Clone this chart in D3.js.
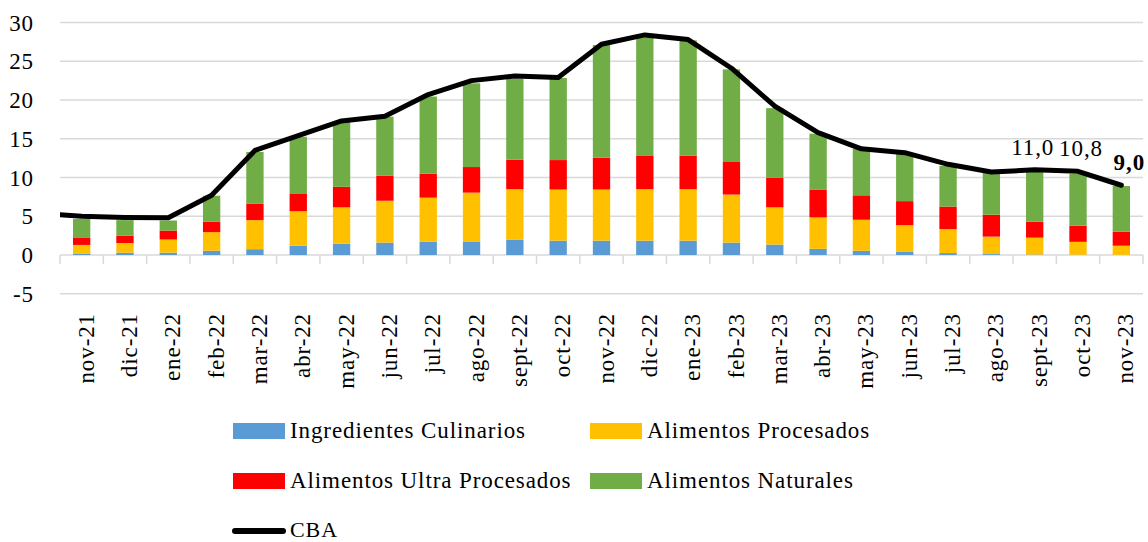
<!DOCTYPE html>
<html>
<head>
<meta charset="utf-8">
<script src="https://cdn.jsdelivr.net/npm/d3@7"></script>
<style>
  body { margin: 0; background: #fff; }
  svg text { font-family: "Liberation Serif", "DejaVu Serif", serif; fill: #000; letter-spacing: 0.9px; }
</style>
</head>
<body>
<svg width="1148" height="542"></svg>
<script>
// categorias (meses)
var meses = ["nov-21", "dic-21", "ene-22", "feb-22", "mar-22", "abr-22", "may-22", "jun-22",
    "jul-22", "ago-22", "sept-22", "oct-22", "nov-22", "dic-22", "ene-23", "feb-23", "mar-23",
    "abr-23", "may-23", "jun-23", "jul-23", "ago-23", "sept-23", "oct-23", "nov-23"];

var ingredientes = [0.2, 0.3, 0.3, 0.55, 0.75, 1.2, 1.45, 1.6, 1.7, 1.75, 1.95, 1.85, 1.85,
    1.85, 1.85, 1.6, 1.35, 0.8, 0.55, 0.4, 0.25, 0.12, 0.06, 0.03, 0.02];
var procesados = [1.1, 1.25, 1.7, 2.4, 3.75, 4.45, 4.7, 5.4, 5.7, 6.3, 6.55, 6.6, 6.6,
    6.65, 6.65, 6.2, 4.8, 4.05, 4.0, 3.45, 3.1, 2.25, 2.18, 1.67, 1.18];
var ultraProcesados = [0.9, 0.95, 1.15, 1.35, 2.1, 2.3, 2.65, 3.25, 3.1, 3.3, 3.8, 3.8, 4.1,
    4.35, 4.3, 4.2, 3.8, 3.55, 3.15, 3.1, 2.9, 2.83, 2.06, 2.08, 1.8];
var naturales = [2.45, 2.0, 1.3, 3.35, 6.7, 7.3, 8.4, 7.6, 9.95, 10.8, 10.45, 10.6, 14.55,
    15.25, 14.9, 11.95, 9.0, 7.25, 6.0, 6.15, 5.25, 5.55, 6.45, 6.7, 5.9];
var cba = [5.0, 4.85, 4.8, 7.7, 13.5, 15.4, 17.3, 17.9, 20.7, 22.5, 23.1, 22.9, 27.2,
    28.4, 27.8, 24.1, 19.2, 15.8, 13.7, 13.2, 11.7, 10.7, 11.0, 10.8, 9.0];
// valor previo (oct-21) de la CBA, queda recortado fuera del area
var cbaPrevio = 5.4;

var yTicks = [-5, 0, 5, 10, 15, 20, 25, 30];
var etiquetados = ["sept-23", "oct-23", "nov-23"];

var series = [
    { nombre: "Ingredientes Culinarios", valores: ingredientes, color: "#5B9BD5" },
    { nombre: "Alimentos Procesados", valores: procesados, color: "#FFC000" },
    { nombre: "Alimentos Ultra Procesados", valores: ultraProcesados, color: "#FF0000" },
    { nombre: "Alimentos Naturales", valores: naturales, color: "#70AD47" }
];

var svg = d3.select("svg");
var left = 60, right = 1143;

var x = d3.scaleBand().domain(meses).range([left, right]);
var y = d3.scaleLinear().domain([-5, 30]).range([293.75, 22.5]);
var bw = x.bandwidth();

// grilla
svg.append("g")
    .selectAll("line")
    .data(yTicks)
    .enter().append("line")
    .attr("x1", left).attr("x2", right)
    .attr("y1", function (d) { return y(d); })
    .attr("y2", function (d) { return y(d); })
    .attr("stroke", "#d9d9d9")
    .attr("stroke-width", 1.5);

// eje y
svg.append("g")
    .selectAll("text")
    .data(yTicks)
    .enter().append("text")
    .attr("x", 34)
    .attr("y", function (d) { return y(d); })
    .attr("dy", "0.35em")
    .attr("text-anchor", "end")
    .style("font-size", "23px")
    .text(function (d) { return d; });

// marcas del eje x
var bordes = meses.map(function (m) { return x(m); }).concat([right]);
svg.append("g")
    .selectAll("line")
    .data(bordes)
    .enter().append("line")
    .attr("x1", function (d) { return d; })
    .attr("x2", function (d) { return d; })
    .attr("y1", y(0)).attr("y2", y(0) + 9)
    .attr("stroke", "#d9d9d9")
    .attr("stroke-width", 1.5);

// barras apiladas
var tabla = meses.map(function (m, i) {
    var fila = { mes: m };
    series.forEach(function (s) { fila[s.nombre] = s.valores[i]; });
    return fila;
});
var stack = d3.stack().keys(series.map(function (s) { return s.nombre; }));
var capas = stack(tabla);

svg.append("g")
    .selectAll("g")
    .data(capas)
    .enter().append("g")
    .attr("fill", function (d, i) { return series[i].color; })
    .selectAll("rect")
    .data(function (d) { return d; })
    .enter().append("rect")
    .attr("x", function (d) { return x(d.data.mes) + bw * 0.3; })
    .attr("width", bw * 0.4)
    .attr("y", function (d) { return y(d[1]); })
    .attr("height", function (d) { return y(d[0]) - y(d[1]); });

// linea CBA
svg.append("clipPath").attr("id", "area")
    .append("rect").attr("x", left).attr("y", 0).attr("width", 1148 - left).attr("height", 542);

var puntos = [[x(meses[0]) - bw / 2, y(cbaPrevio)]].concat(meses.map(function (m, i) {
    return [x(m) + bw / 2, y(cba[i])];
}));
svg.append("path")
    .attr("clip-path", "url(#area)")
    .attr("d", d3.line()(puntos))
    .attr("fill", "none")
    .attr("stroke", "#000")
    .attr("stroke-width", 5)
    .attr("stroke-linejoin", "round")
    .attr("stroke-linecap", "round");

// etiquetas de datos
var fmt = function (v) { return d3.format(".1f")(v).replace(".", ","); };
var dxs = [-2, 3, 8];
svg.append("g")
    .selectAll("text")
    .data(etiquetados)
    .enter().append("text")
    .attr("x", function (d, i) { return x(d) + bw / 2 + dxs[i]; })
    .attr("y", function (d) { return y(cba[meses.indexOf(d)]) - 15; })
    .attr("text-anchor", "middle")
    .style("font-size", "23px")
    .style("font-weight", function (d, i) { return i === etiquetados.length - 1 ? "bold" : "normal"; })
    .text(function (d) { return fmt(cba[meses.indexOf(d)]); });

// etiquetas del eje x
svg.append("g")
    .selectAll("text")
    .data(meses)
    .enter().append("text")
    .attr("transform", function (d) {
        return "translate(" + (x(d) + bw / 2 + 4) + ",313) rotate(-90)";
    })
    .attr("dy", "0.35em")
    .attr("text-anchor", "end")
    .style("font-size", "23px")
    .text(function (d) { return d; });

// leyenda
var leyenda = svg.append("g");
var posLeyenda = [[233, 431], [590, 431], [233, 481], [590, 481]];
series.forEach(function (s, i) {
    var p = posLeyenda[i];
    leyenda.append("rect")
        .attr("x", p[0]).attr("y", p[1] - 8)
        .attr("width", 52).attr("height", 16)
        .attr("fill", s.color);
    leyenda.append("text")
        .attr("x", p[0] + 57).attr("y", p[1] + 7)
        .style("font-size", "23px")
        .text(s.nombre);
});
leyenda.append("line")
    .attr("x1", 235).attr("x2", 283)
    .attr("y1", 531).attr("y2", 531)
    .attr("stroke", "#000")
    .attr("stroke-width", 6)
    .attr("stroke-linecap", "round");
leyenda.append("text")
    .attr("x", 290).attr("y", 537)
    .style("font-size", "22px")
    .text("CBA");
</script>
</body>
</html>
